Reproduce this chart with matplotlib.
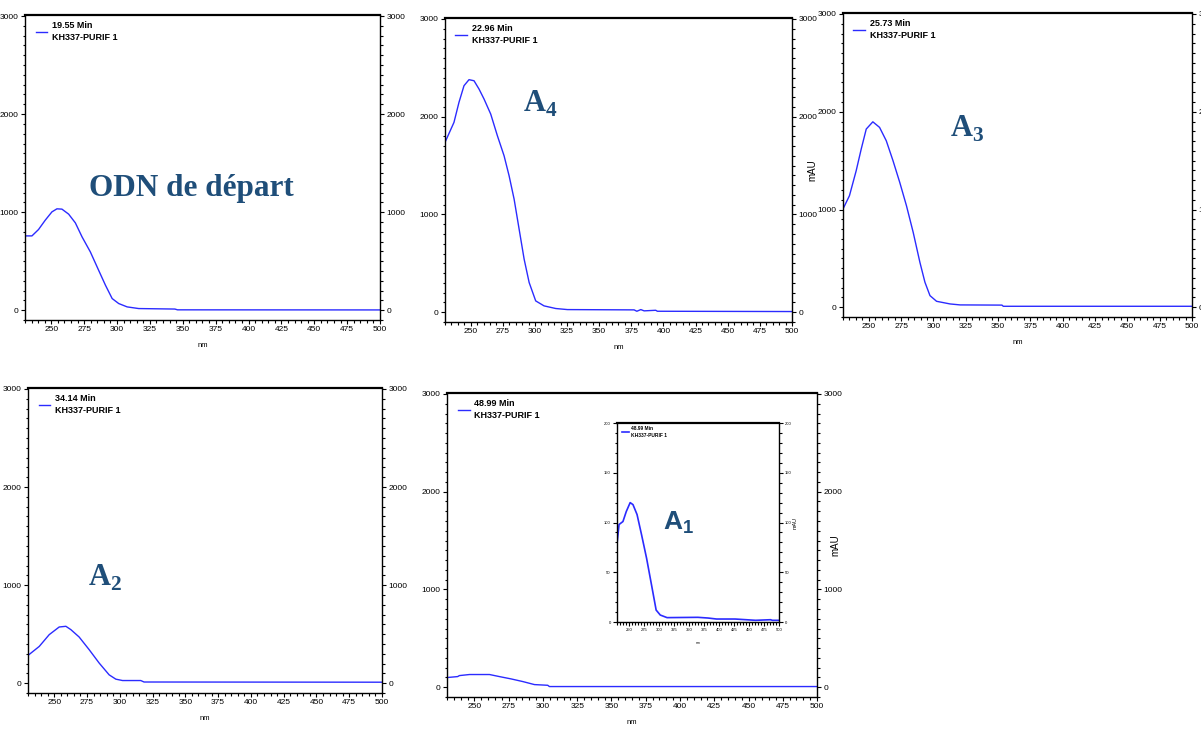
import matplotlib
matplotlib.use('Agg')
import matplotlib.pyplot as plt
from matplotlib.ticker import MultipleLocator, FixedLocator

plt.rcParams['font.family'] = ['Liberation Sans Narrow', 'Liberation Sans', 'DejaVu Sans']
plt.rcParams['mathtext.fontset'] = 'custom'
plt.rcParams['mathtext.bf'] = 'Liberation Serif:bold'
plt.rcParams['mathtext.sf'] = 'Liberation Sans:bold'

# UV spectra (nm, mAU)
nm_odn = [230, 235.3, 240.3, 245.4, 250.5, 254.3, 258.1, 263.2, 268.3, 273.4, 279.7, 286, 291.2,
          296.3, 301.3, 307.7, 316.5, 344, 346, 500]
mau_odn = [758, 758, 823, 918, 1003, 1034, 1031, 980, 891, 748, 595, 408, 255,
           119, 68, 34, 17, 12, 4, 3]

nm_a4 = [230, 237, 240.9, 244.8, 248.7, 252.6, 256.5, 260.4, 265.6, 270.8, 276, 279.9, 283.8,
         287.7, 291.6, 295.5, 300.6, 307.1, 316.2, 325.3, 377.2, 379.3, 382.4, 385, 394, 395.3, 500]
mau_a4 = [1737, 1942, 2147, 2317, 2379, 2368, 2283, 2181, 2027, 1805, 1600, 1396, 1157,
          850, 543, 304, 116, 65, 38, 27, 24, 10, 27, 14, 20, 10, 7]

nm_a3 = [230, 235, 240.2, 244.1, 248, 253.1, 258.3, 263.5, 268.7, 273.9, 279.1, 284.3, 289.5,
         293.4, 297.3, 302.4, 312.8, 320.6, 353, 354, 500]
mau_a3 = [1005, 1141, 1396, 1618, 1823, 1897, 1840, 1703, 1499, 1278, 1039, 767, 460,
          256, 119, 61, 34, 24, 22, 10, 10]

nm_a2 = [230, 238.6, 246.2, 253.8, 258.9, 262.7, 269, 276.7, 284.3, 291.9, 297, 302.1, 316,
         318.5, 500]
mau_a2 = [283, 375, 495, 573, 580, 546, 471, 341, 205, 85, 41, 27, 27, 12, 10]

nm_a1 = [230, 237.8, 239, 246.4, 261, 268.2, 276.8, 285.3, 293.8, 303.5, 304.7, 500]
mau_a1 = [99, 109, 119, 130, 130, 109, 85, 58, 27, 20, 7, 7]

# zoomed spectrum of A1 (inset)
nm_a1_zoom = [230, 233.5, 240, 245.5, 252, 256.7, 263.5, 270.9, 279.4, 288, 295.3, 302.2, 313.5,
              364.8, 381.8, 396, 427, 461, 486, 489, 500]
mau_a1_zoom = [78, 98, 101, 111, 120, 118, 108, 88, 64, 36, 12, 7, 4.4, 4.7, 4, 3, 3, 1.7, 2.3,
               1.7, 1.7]

times = ['19.55 Min', '22.96 Min', '25.73 Min', '34.14 Min', '48.99 Min']
sample = 'KH337-PURIF 1'
x_ticks = [250, 275, 300, 325, 350, 375, 400, 425, 450, 475, 500]

line_col = '#2b2bff'
txt_col = '#1f4e79'


def spectrum(rect, nm, mau, rt, ymax=3000, ystep=1000, minor=100, fs=6, lw=1.0, mau_x=None):
    ax = fig.add_axes(rect)
    ax.plot(nm, mau, color=line_col, lw=lw, label=rt + '\n' + sample)
    ax.set_xlim(230, 500)
    if ymax == 3000:
        ax.set_ylim(-100, 3010)
    else:
        ax.set_ylim(0, ymax)
    ax.xaxis.set_major_locator(FixedLocator(x_ticks))
    ax.xaxis.set_minor_locator(MultipleLocator(5))
    ax.yaxis.set_major_locator(MultipleLocator(ystep))
    ax.yaxis.set_minor_locator(MultipleLocator(minor))
    ax.tick_params(which='both', direction='out', labelsize=fs, pad=1.5,
                   right=True, labelright=True, width=0.8)
    ax.tick_params(which='major', length=3)
    ax.tick_params(which='minor', length=1.8)
    for s in ax.spines.values():
        s.set_linewidth(1.0)
    ax.spines['top'].set_linewidth(1.6)
    ax.set_xlabel('nm', fontsize=fs - 0.5, labelpad=6)
    leg = ax.legend(loc='upper left', bbox_to_anchor=(0.012, 1.0), frameon=False,
                    handlelength=1.3, handletextpad=0.5, borderaxespad=0.3,
                    prop={'weight': 'bold', 'size': fs + 0.5})
    for t in leg.get_texts():
        t.set_linespacing(1.35)
    if mau_x is not None:
        ax.text(mau_x, 0.5, 'mAU', rotation=90, transform=ax.transAxes, fontsize=fs + 1,
                va='center', ha='left')
    return ax


fig = plt.figure(figsize=(12.01, 7.31), dpi=100)
fig.patch.set_facecolor('white')

ax1 = spectrum([0.0208, 0.5622, 0.2956, 0.4172], nm_odn, mau_odn, times[0])
ax2 = spectrum([0.3705, 0.5595, 0.2889, 0.4159], nm_a4, mau_a4, times[1], mau_x=1.045)
ax3 = spectrum([0.7019, 0.5663, 0.2906, 0.4159], nm_a3, mau_a3, times[2])
ax4 = spectrum([0.0233, 0.0520, 0.2948, 0.4172], nm_a2, mau_a2, times[3])
ax5 = spectrum([0.3722, 0.0465, 0.3081, 0.4159], nm_a1, mau_a1, times[4], mau_x=1.035)
ax6 = spectrum([0.5137, 0.1491, 0.1349, 0.2722], nm_a1_zoom, mau_a1_zoom, times[4],
               ymax=200, ystep=50, minor=10, fs=3, lw=1.2, mau_x=1.085)

ax1.text(279, 1240, 'ODN de départ', fontsize=22.5, fontweight='bold', family='Liberation Serif',
         color=txt_col, va='center', ha='left')
ax2.text(291, 2130, r'$\mathbf{A}_\mathbf{4}$', fontsize=22, color=txt_col, va='center', ha='left')
ax3.text(313, 1820, r'$\mathbf{A}_\mathbf{3}$', fontsize=22, color=txt_col, va='center', ha='left')
ax4.text(276, 1070, r'$\mathbf{A}_\mathbf{2}$', fontsize=22, color=txt_col, va='center', ha='left')
ax6.text(307, 100, r'$\mathsf{A}_\mathsf{1}$', fontsize=19, color=txt_col, va='center', ha='left')

plt.savefig('out.png', dpi=100)
